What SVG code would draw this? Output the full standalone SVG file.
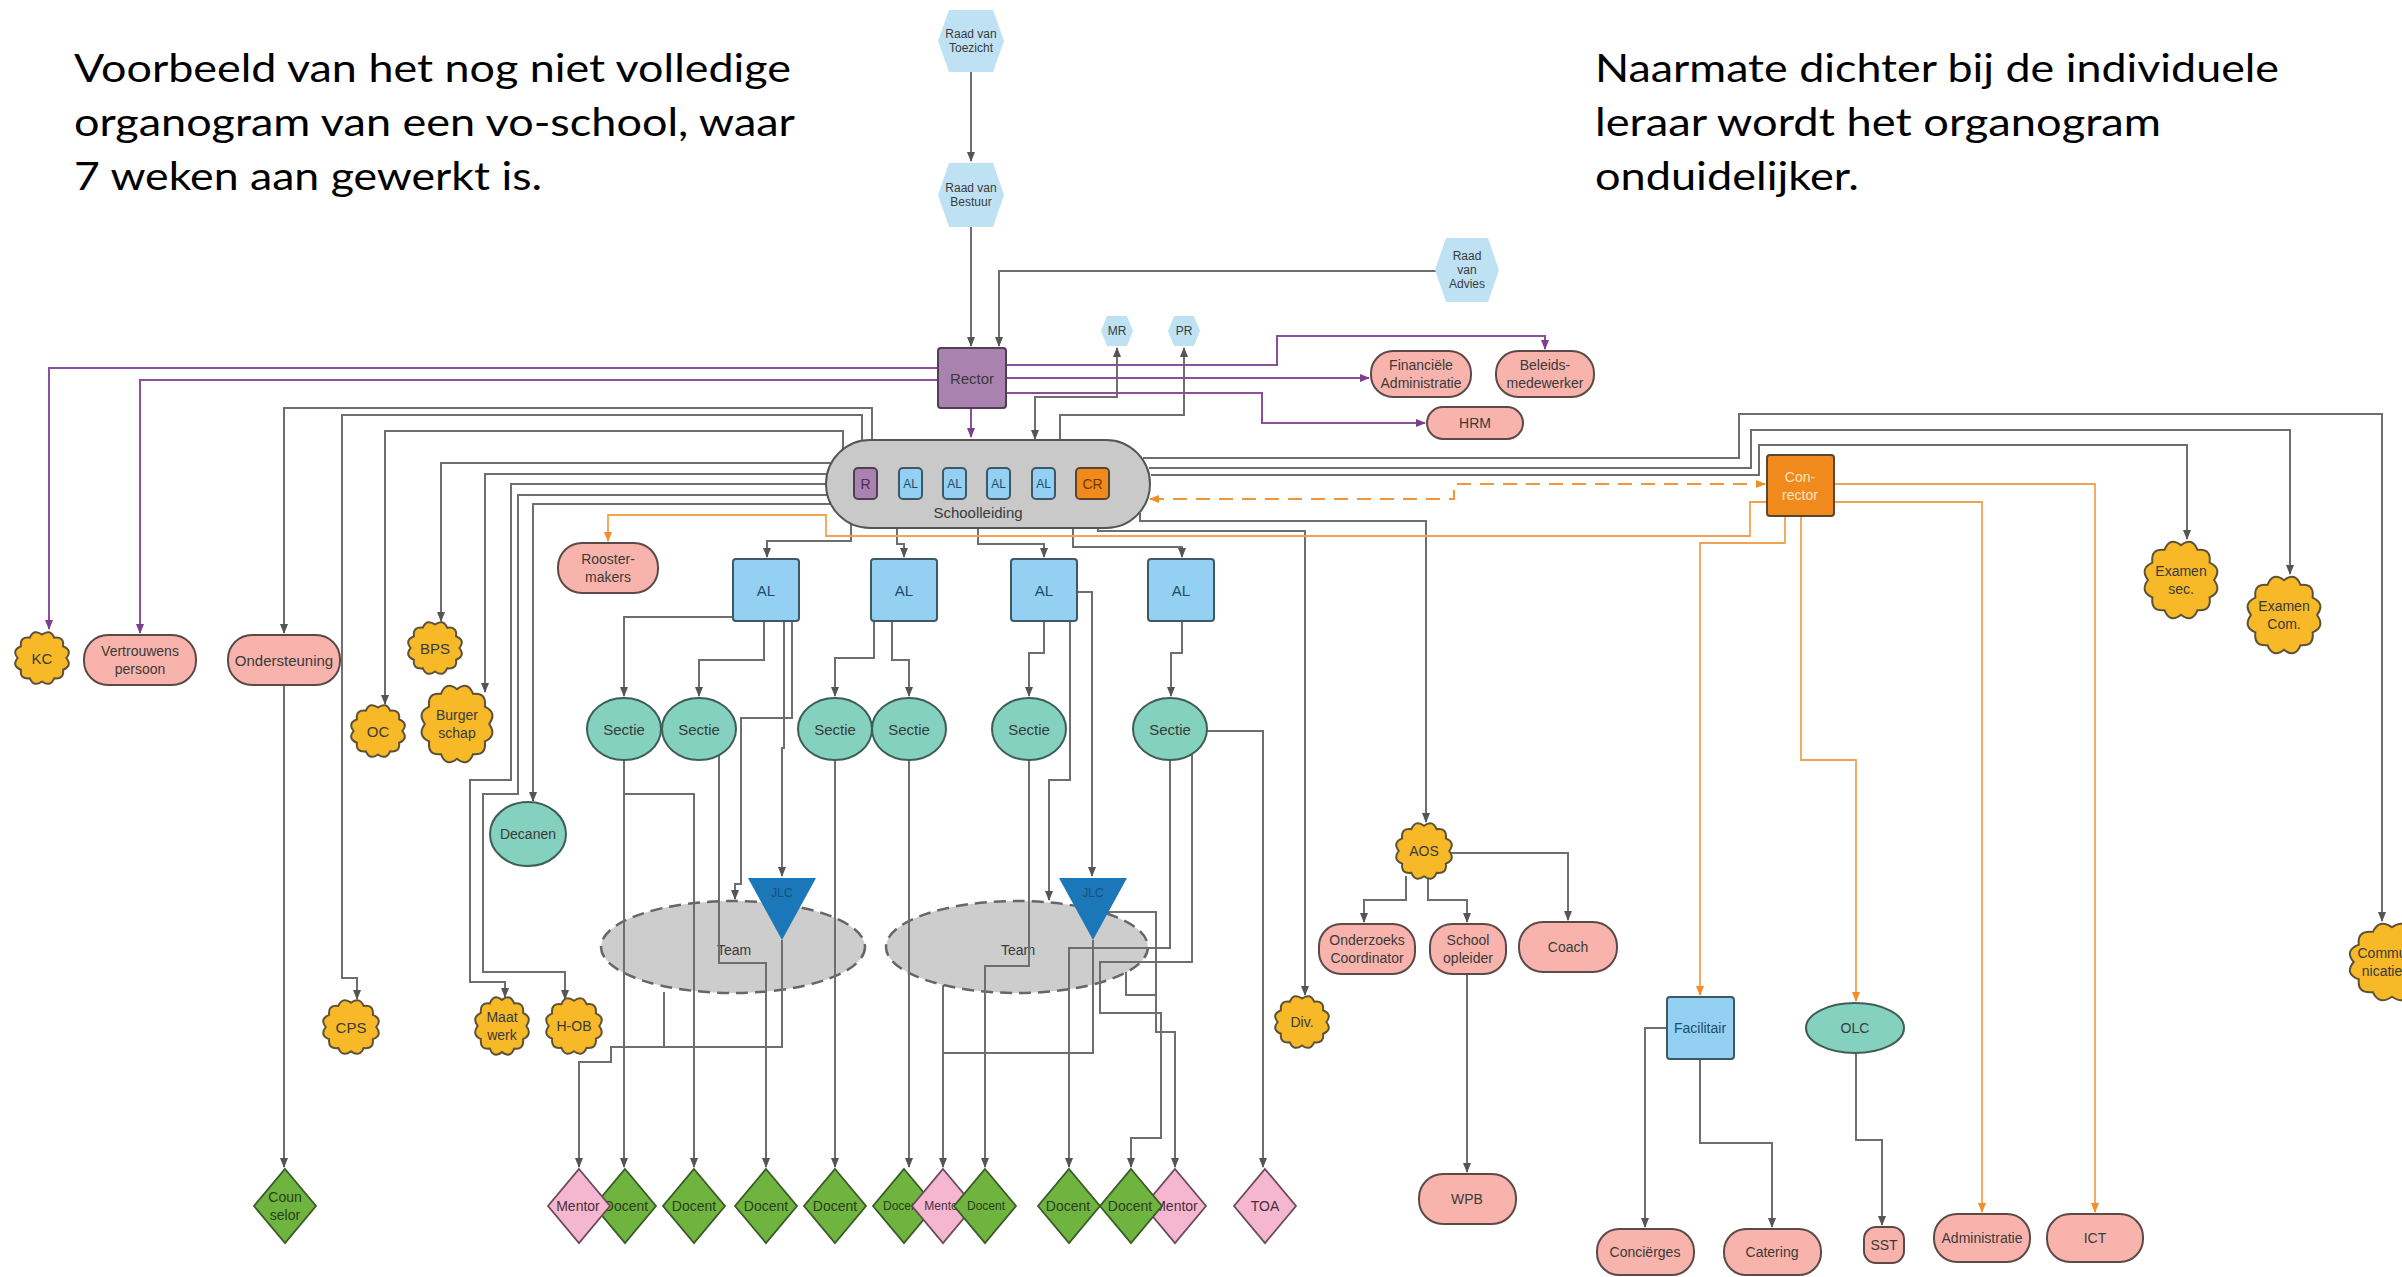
<svg xmlns="http://www.w3.org/2000/svg" width="2402" height="1277" viewBox="0 0 2402 1277">
<defs>
<style>
.lbl{font-family:"Liberation Sans",Arial,sans-serif;font-size:15px;fill:#3a3a3a;text-anchor:middle;dominant-baseline:central}
.sm{font-size:12px}
.md{font-size:14px}
.xs{font-size:12px}
.note{font-family:Lato,"Open Sans",sans-serif;font-size:39px;fill:#000}
.pink{fill:#f8b4ac;stroke:#5b4a48;stroke-width:2}
.cloud{fill:#f7b928;stroke:#5d5238;stroke-width:2}
.hex{fill:#bee2f4}
.blue{fill:#94d0f2;stroke:#3e5868;stroke-width:2}
.teal{fill:#84d1bf;stroke:#3f5e56;stroke-width:2}
.purple{fill:#a982b0;stroke:#4e3f52;stroke-width:2}
.orange{fill:#f08a1c;stroke:#5a4530;stroke-width:2}
.green{fill:#6fb43f;stroke:#3a5a28;stroke-width:1.8}
.rose{fill:#f5b6d0;stroke:#6b4b5b;stroke-width:1.8}
.team{fill:#cdcdcd;stroke:#666;stroke-width:2.5;stroke-dasharray:12 7}
.jlc{fill:#1b77b8}
.sl{fill:#c9c9c9;stroke:#555;stroke-width:2}
.g{fill:none;stroke:#6e6e6e;stroke-width:2;marker-end:url(#ag)}
.gn{fill:none;stroke:#6e6e6e;stroke-width:2}
.gb{marker-start:url(#ag)}
.p{fill:none;stroke:#8b4f9b;stroke-width:2;marker-end:url(#ap)}
.o{fill:none;stroke:#f0a352;stroke-width:1.8;marker-end:url(#ao)}
.od{fill:none;stroke:#f0953a;stroke-width:2;stroke-dasharray:14 9;marker-start:url(#ao);marker-end:url(#ao)}
.dg{fill:#2b3d1c}
.dr{fill:#4a2d3a}
</style>
<marker id="ag" viewBox="0 0 10 10" refX="9" refY="5" markerWidth="10" markerHeight="10" markerUnits="userSpaceOnUse" orient="auto-start-reverse"><path d="M0,1 L10,5 L0,9 z" fill="#555"/></marker>
<marker id="ap" viewBox="0 0 10 10" refX="9" refY="5" markerWidth="10" markerHeight="10" markerUnits="userSpaceOnUse" orient="auto-start-reverse"><path d="M0,1 L10,5 L0,9 z" fill="#7b3f8c"/></marker>
<marker id="ao" viewBox="0 0 10 10" refX="9" refY="5" markerWidth="10" markerHeight="10" markerUnits="userSpaceOnUse" orient="auto-start-reverse"><path d="M0,1 L10,5 L0,9 z" fill="#f08e2c"/></marker>
<path id="cloudshape" vector-effect="non-scaling-stroke" d="M0.87,0 Q1.092,0.293 0.753,0.435 Q0.799,0.799 0.435,0.753 Q0.293,1.092 0,0.87 Q-0.293,1.092 -0.435,0.753 Q-0.799,0.799 -0.753,0.435 Q-1.092,0.293 -0.87,0 Q-1.092,-0.293 -0.753,-0.435 Q-0.799,-0.799 -0.435,-0.753 Q-0.293,-1.092 0,-0.87 Q0.293,-1.092 0.435,-0.753 Q0.799,-0.799 0.753,-0.435 Q1.092,-0.293 0.87,0 Z"/>
</defs>
<rect width="2402" height="1277" fill="#fff"/>

<!-- explanatory notes -->
<g id="note-left">
<text class="note" x="74" y="82" textLength="717" lengthAdjust="spacingAndGlyphs">Voorbeeld van het nog niet volledige</text>
<text class="note" x="74" y="136" textLength="721" lengthAdjust="spacingAndGlyphs">organogram van een vo-school, waar</text>
<text class="note" x="74" y="190" textLength="468" lengthAdjust="spacingAndGlyphs">7 weken aan gewerkt is.</text>
</g>
<g id="note-right">
<text class="note" x="1595" y="82" textLength="684" lengthAdjust="spacingAndGlyphs">Naarmate dichter bij de individuele</text>
<text class="note" x="1595" y="136" textLength="566" lengthAdjust="spacingAndGlyphs">leraar wordt het organogram</text>
<text class="note" x="1595" y="190" textLength="264" lengthAdjust="spacingAndGlyphs">onduidelijker.</text>
</g>

<!-- team ellipses sit beneath the connectors -->
<g id="team-1"><ellipse class="team" cx="733" cy="947" rx="132" ry="46"/><text class="lbl md" x="734" y="950">Team</text></g>
<g id="team-2"><ellipse class="team" cx="1017" cy="947" rx="131" ry="46"/><text class="lbl md" x="1018" y="950">Team</text></g>

<g id="connectors">
<!-- board and rector -->
<path class="g" d="M971,72 V161"/>
<path class="g" d="M971,227 V346"/>
<path class="g" d="M1436,271 H999 V346"/>
<path class="g gb" d="M1035,439 V397 H1117 V348"/>
<path class="g" d="M1060,441 V415 H1184 V348"/>
<!-- schoolleiding to the left-hand staff -->
<path class="g" d="M872,441 V408 H284 V633"/>
<path class="g" d="M862,442 V415 H342 V978 H357 V999"/>
<path class="g" d="M843,451 V431 H385 V704"/>
<path class="g" d="M833,463 H441 V621"/>
<path class="g" d="M828,474 H485 V692"/>
<path class="g" d="M827,484 H511 V780 H470 V982 H505 V997"/>
<path class="g" d="M828,495 H518 V794 H483 V972 H565 V999"/>
<path class="g" d="M831,504 H533 V801"/>
<!-- schoolleiding to the AL's -->
<path class="g" d="M851,523 V541 H767 V557"/>
<path class="g" d="M897,528 V544 H904 V557"/>
<path class="g" d="M978,528 V544 H1044 V557"/>
<path class="g" d="M1073,528 V547 H1182 V557"/>
<!-- AL to secties, JLC and teams -->
<path class="g" d="M733,617 H624 V696"/>
<path class="g" d="M764,621 V660 H699 V696"/>
<path class="g" d="M874,621 V658 H835 V696"/>
<path class="g" d="M892,621 V660 H909 V696"/>
<path class="g" d="M1044,621 V653 H1029 V696"/>
<path class="g" d="M1182,621 V653 H1171 V696"/>
<path class="g" d="M784,621 V748 H782 V876"/>
<path class="g" d="M792,621 V718 H741 V884 H735 V899"/>
<path class="g" d="M1077,592 H1092 V876"/>
<path class="g" d="M1070,621 V780 H1049 V900"/>
<!-- secties to docenten -->
<path class="g" d="M624,760 V1167"/>
<path class="g" d="M624,794 H694 V1167"/>
<path class="g" d="M719,755 V963 H766 V1167"/>
<path class="g" d="M835,760 V1167"/>
<path class="g" d="M909,760 V1167"/>
<path class="g" d="M1029,760 V966 H985 V1167"/>
<path class="g" d="M1170,760 V948 H1069 V1167"/>
<path class="g" d="M1192,754 V962 H1100 V1013 H1161 V1138 H1131 V1167"/>
<path class="g" d="M1207,731 H1263 V1167"/>
<!-- JLC and teams to mentors -->
<path class="g" d="M782,940 V1047 H611 V1062 H579 V1167"/>
<path class="gn" d="M664,992 V1047"/>
<path class="g" d="M1093,940 V1053 H943 V1167"/>
<path class="gn" d="M943,985 V1053"/>
<path class="g" d="M1108,912 H1156 V1032 H1175 V1167"/>
<path class="gn" d="M1126,972 V995 H1156"/>
<!-- div, AOS and its branches -->
<path class="g" d="M1098,528 V531 H1305 V995"/>
<path class="g" d="M1140,513 V521 H1426 V822"/>
<path class="g" d="M1406,876 V900 H1364 V922"/>
<path class="g" d="M1428,878 V900 H1467 V922"/>
<path class="g" d="M1451,853 H1568 V920"/>
<path class="g" d="M1467,974 V1172"/>
<!-- right-hand staff -->
<path class="g" d="M1143,458 H1739 V414 H2382 V921"/>
<path class="g" d="M1149,468 H1751 V430 H2290 V574"/>
<path class="g" d="M1151,475 H1759 V445 H2187 V539"/>
<path class="g" d="M1667,1028 H1645 V1227"/>
<path class="g" d="M1700,1059 V1143 H1772 V1227"/>
<path class="g" d="M1856,1053 V1140 H1882 V1225"/>
<path class="g" d="M284,685 V1167"/>
<!-- rector lines -->
<path class="p" d="M938,368 H49 V629"/>
<path class="p" d="M938,380 H140 V633"/>
<path class="p" d="M1006,365 H1277 V336 H1545 V349"/>
<path class="p" d="M1006,378 H1369"/>
<path class="p" d="M1006,393 H1262 V423 H1425"/>
<path class="p" d="M971,408 V437"/>
<!-- con-rector lines -->
<path class="o" d="M1767,502 H1750 V536 H826 V515 H608 V541"/>
<path class="o" d="M1785,516 V543 H1700 V995"/>
<path class="o" d="M1801,516 V760 H1856 V1001"/>
<path class="o" d="M1834,502 H1982 V1212"/>
<path class="o" d="M1834,484 H2095 V1212"/>
<path class="od" d="M1150,499 H1454 V484 H1765"/>
</g>

<!-- board level -->
<g id="raad-van-toezicht"><polygon class="hex" points="938,41 949,10 993,10 1004,41 993,72 949,72"/><text class="lbl sm" x="971" y="41"><tspan x="971" dy="-7">Raad van</tspan><tspan x="971" dy="14">Toezicht</tspan></text></g>
<g id="raad-van-bestuur"><polygon class="hex" points="938,195 949,163 993,163 1004,195 993,227 949,227"/><text class="lbl sm" x="971" y="195"><tspan x="971" dy="-7">Raad van</tspan><tspan x="971" dy="14">Bestuur</tspan></text></g>
<g id="raad-van-advies"><polygon class="hex" points="1435,270 1446,238 1488,238 1499,270 1488,302 1446,302"/><text class="lbl sm" x="1467" y="270"><tspan x="1467" dy="-14">Raad</tspan><tspan x="1467" dy="14">van</tspan><tspan x="1467" dy="14">Advies</tspan></text></g>
<g id="mr"><polygon class="hex" points="1101,331 1107,316 1127,316 1133,331 1127,346 1107,346"/><text class="lbl sm" x="1117" y="331">MR</text></g>
<g id="pr"><polygon class="hex" points="1168,331 1174,316 1194,316 1200,331 1194,346 1174,346"/><text class="lbl sm" x="1184" y="331">PR</text></g>
<g id="rector"><rect class="purple" x="938" y="348" width="68" height="60" rx="3"/><text class="lbl" x="972" y="378">Rector</text></g>
<g id="financiele-administratie"><rect class="pink" x="1371" y="351" width="100" height="46" rx="22"/><text class="lbl md" x="1421" y="374"><tspan x="1421" dy="-9">Financiële</tspan><tspan x="1421" dy="18">Administratie</tspan></text></g>
<g id="beleidsmedewerker"><rect class="pink" x="1496" y="351" width="98" height="46" rx="22"/><text class="lbl md" x="1545" y="374"><tspan x="1545" dy="-9">Beleids-</tspan><tspan x="1545" dy="18">medewerker</tspan></text></g>
<g id="hrm"><rect class="pink" x="1427" y="407" width="96" height="32" rx="16"/><text class="lbl md" x="1475" y="423">HRM</text></g>

<!-- schoolleiding -->
<g id="schoolleiding">
<rect class="sl" x="826" y="440" width="324" height="88" rx="44"/>
<rect class="purple" x="854" y="468" width="23" height="31" rx="4"/><text class="lbl md" x="865.5" y="484" style="fill:#4a2f55">R</text>
<rect class="blue" x="899" y="468" width="23" height="31" rx="4"/><text class="lbl sm" x="910.5" y="484" style="fill:#1d4d6a">AL</text>
<rect class="blue" x="943" y="468" width="23" height="31" rx="4"/><text class="lbl sm" x="954.5" y="484" style="fill:#1d4d6a">AL</text>
<rect class="blue" x="987" y="468" width="23" height="31" rx="4"/><text class="lbl sm" x="998.5" y="484" style="fill:#1d4d6a">AL</text>
<rect class="blue" x="1032" y="468" width="23" height="31" rx="4"/><text class="lbl sm" x="1043.5" y="484" style="fill:#1d4d6a">AL</text>
<rect class="orange" x="1076" y="468" width="33" height="31" rx="4"/><text class="lbl md" x="1092.5" y="484" style="fill:#6b3a00">CR</text>
<text class="lbl" x="978" y="512">Schoolleiding</text>
</g>

<!-- left-hand staff -->
<g id="kc"><use href="#cloudshape" class="cloud" transform="translate(42 658) scale(28 27)"/><text class="lbl" x="42" y="658">KC</text></g>
<g id="vertrouwenspersoon"><rect class="pink" x="84" y="635" width="112" height="50" rx="24"/><text class="lbl md" x="140" y="660"><tspan x="140" dy="-9">Vertrouwens</tspan><tspan x="140" dy="18">persoon</tspan></text></g>
<g id="ondersteuning"><rect class="pink" x="228" y="635" width="112" height="50" rx="24"/><text class="lbl" x="284" y="660">Ondersteuning</text></g>
<g id="bps"><use href="#cloudshape" class="cloud" transform="translate(435 648) scale(28 27)"/><text class="lbl" x="435" y="648">BPS</text></g>
<g id="oc"><use href="#cloudshape" class="cloud" transform="translate(378 731) scale(28 27)"/><text class="lbl" x="378" y="731">OC</text></g>
<g id="burgerschap"><use href="#cloudshape" class="cloud" transform="translate(457 724) scale(37 40)"/><text class="lbl md" x="457" y="724"><tspan x="457" dy="-9">Burger</tspan><tspan x="457" dy="18">schap</tspan></text></g>
<g id="roostermakers"><rect class="pink" x="558" y="543" width="100" height="50" rx="24"/><text class="lbl md" x="608" y="568"><tspan x="608" dy="-9">Rooster-</tspan><tspan x="608" dy="18">makers</tspan></text></g>
<g id="decanen"><ellipse class="teal" cx="528" cy="834" rx="38" ry="32"/><text class="lbl md" x="528" y="834">Decanen</text></g>
<g id="cps"><use href="#cloudshape" class="cloud" transform="translate(351 1027) scale(29 28)"/><text class="lbl" x="351" y="1027">CPS</text></g>
<g id="maatwerk"><use href="#cloudshape" class="cloud" transform="translate(502 1026) scale(28 30)"/><text class="lbl md" x="502" y="1026"><tspan x="502" dy="-9">Maat</tspan><tspan x="502" dy="18">werk</tspan></text></g>
<g id="h-ob"><use href="#cloudshape" class="cloud" transform="translate(574 1026) scale(29 29)"/><text class="lbl md" x="574" y="1026">H-OB</text></g>
<g id="counselor"><polygon class="green" points="285,1169 316,1206 285,1243 254,1206"/><text class="lbl md dg" x="285" y="1206"><tspan x="285" dy="-9">Coun</tspan><tspan x="285" dy="18">selor</tspan></text></g>

<!-- afdelingsleiders -->
<g id="al-1"><rect class="blue" x="733" y="559" width="66" height="62" rx="3"/><text class="lbl" x="766" y="590" style="fill:#1d4d6a">AL</text></g>
<g id="al-2"><rect class="blue" x="871" y="559" width="66" height="62" rx="3"/><text class="lbl" x="904" y="590" style="fill:#1d4d6a">AL</text></g>
<g id="al-3"><rect class="blue" x="1011" y="559" width="66" height="62" rx="3"/><text class="lbl" x="1044" y="590" style="fill:#1d4d6a">AL</text></g>
<g id="al-4"><rect class="blue" x="1148" y="559" width="66" height="62" rx="3"/><text class="lbl" x="1181" y="590" style="fill:#1d4d6a">AL</text></g>

<!-- secties -->
<g id="sectie-1"><ellipse class="teal" cx="624" cy="729" rx="37" ry="31"/><text class="lbl" x="624" y="729">Sectie</text></g>
<g id="sectie-2"><ellipse class="teal" cx="699" cy="729" rx="37" ry="31"/><text class="lbl" x="699" y="729">Sectie</text></g>
<g id="sectie-3"><ellipse class="teal" cx="835" cy="729" rx="37" ry="31"/><text class="lbl" x="835" y="729">Sectie</text></g>
<g id="sectie-4"><ellipse class="teal" cx="909" cy="729" rx="37" ry="31"/><text class="lbl" x="909" y="729">Sectie</text></g>
<g id="sectie-5"><ellipse class="teal" cx="1029" cy="729" rx="37" ry="31"/><text class="lbl" x="1029" y="729">Sectie</text></g>
<g id="sectie-6"><ellipse class="teal" cx="1170" cy="729" rx="37" ry="31"/><text class="lbl" x="1170" y="729">Sectie</text></g>

<!-- jaarlaagcoordinatoren -->
<g id="jlc-1"><polygon class="jlc" points="748,878 816,878 782,940"/><text class="lbl sm" x="782" y="893" style="fill:#17527e">JLC</text></g>
<g id="jlc-2"><polygon class="jlc" points="1059,878 1127,878 1093,940"/><text class="lbl sm" x="1093" y="893" style="fill:#17527e">JLC</text></g>

<!-- docenten and mentoren -->
<g id="docent-1"><polygon class="green" points="625,1169 656,1206 625,1243 594,1206"/><text class="lbl md dg" x="626" y="1206">Docent</text></g>
<g id="mentor-1"><polygon class="rose" points="579,1169 610,1206 579,1243 548,1206"/><text class="lbl md dr" x="578" y="1206">Mentor</text></g>
<g id="docent-2"><polygon class="green" points="694,1169 725,1206 694,1243 663,1206"/><text class="lbl md dg" x="694" y="1206">Docent</text></g>
<g id="docent-3"><polygon class="green" points="766,1169 797,1206 766,1243 735,1206"/><text class="lbl md dg" x="766" y="1206">Docent</text></g>
<g id="docent-4"><polygon class="green" points="835,1169 866,1206 835,1243 804,1206"/><text class="lbl md dg" x="835" y="1206">Docent</text></g>
<g id="docent-5"><polygon class="green" points="904,1169 935,1206 904,1243 873,1206"/><text class="lbl xs dg" x="902" y="1206">Docent</text></g>
<g id="mentor-2"><polygon class="rose" points="943,1169 974,1206 943,1243 912,1206"/><text class="lbl xs dr" x="943" y="1206">Mentor</text></g>
<g id="docent-6"><polygon class="green" points="985,1169 1016,1206 985,1243 954,1206"/><text class="lbl xs dg" x="986" y="1206">Docent</text></g>
<g id="docent-7"><polygon class="green" points="1069,1169 1100,1206 1069,1243 1038,1206"/><text class="lbl md dg" x="1068" y="1206">Docent</text></g>
<g id="mentor-3"><polygon class="rose" points="1175,1169 1206,1206 1175,1243 1144,1206"/><text class="lbl md dr" x="1176" y="1206">Mentor</text></g>
<g id="docent-8"><polygon class="green" points="1131,1169 1162,1206 1131,1243 1100,1206"/><text class="lbl md dg" x="1130" y="1206">Docent</text></g>
<g id="toa"><polygon class="rose" points="1265,1169 1296,1206 1265,1243 1234,1206"/><text class="lbl md dr" x="1265" y="1206">TOA</text></g>

<!-- AOS branch -->
<g id="div"><use href="#cloudshape" class="cloud" transform="translate(1302 1022) scale(28 27)"/><text class="lbl md" x="1302" y="1022">Div.</text></g>
<g id="aos"><use href="#cloudshape" class="cloud" transform="translate(1424 851) scale(29 29)"/><text class="lbl md" x="1424" y="851">AOS</text></g>
<g id="onderzoekscoordinator"><rect class="pink" x="1319" y="924" width="96" height="50" rx="22"/><text class="lbl md" x="1367" y="949"><tspan x="1367" dy="-9">Onderzoeks</tspan><tspan x="1367" dy="18">Coordinator</tspan></text></g>
<g id="schoolopleider"><rect class="pink" x="1430" y="924" width="76" height="50" rx="22"/><text class="lbl md" x="1468" y="949"><tspan x="1468" dy="-9">School</tspan><tspan x="1468" dy="18">opleider</tspan></text></g>
<g id="coach"><rect class="pink" x="1519" y="922" width="98" height="50" rx="24"/><text class="lbl md" x="1568" y="947">Coach</text></g>
<g id="wpb"><rect class="pink" x="1419" y="1174" width="97" height="50" rx="24"/><text class="lbl md" x="1467" y="1199">WPB</text></g>

<!-- con-rector branch -->
<g id="con-rector"><rect class="orange" x="1767" y="455" width="67" height="61" rx="3"/><text class="lbl md" x="1800" y="486" style="fill:#fbe3c4"><tspan x="1800" dy="-9">Con-</tspan><tspan x="1800" dy="18">rector</tspan></text></g>
<g id="facilitair"><rect class="blue" x="1667" y="997" width="67" height="62" rx="3"/><text class="lbl md" x="1700" y="1028" style="fill:#1d4d6a">Facilitair</text></g>
<g id="olc"><ellipse class="teal" cx="1855" cy="1028" rx="49" ry="25"/><text class="lbl md" x="1855" y="1028">OLC</text></g>
<g id="concierges"><rect class="pink" x="1597" y="1229" width="97" height="46" rx="22"/><text class="lbl md" x="1645" y="1252">Conciërges</text></g>
<g id="catering"><rect class="pink" x="1724" y="1229" width="97" height="46" rx="22"/><text class="lbl md" x="1772" y="1252">Catering</text></g>
<g id="sst"><rect class="pink" x="1864" y="1227" width="40" height="36" rx="12"/><text class="lbl md" x="1884" y="1245">SST</text></g>
<g id="administratie"><rect class="pink" x="1934" y="1214" width="96" height="48" rx="23"/><text class="lbl md" x="1982" y="1238">Administratie</text></g>
<g id="ict"><rect class="pink" x="2047" y="1214" width="96" height="48" rx="23"/><text class="lbl md" x="2095" y="1238">ICT</text></g>

<!-- exam and communication -->
<g id="examensecretariaat"><use href="#cloudshape" class="cloud" transform="translate(2181 580) scale(38 40)"/><text class="lbl md" x="2181" y="580"><tspan x="2181" dy="-9">Examen</tspan><tspan x="2181" dy="18">sec.</tspan></text></g>
<g id="examencommissie"><use href="#cloudshape" class="cloud" transform="translate(2284 615) scale(38 40)"/><text class="lbl md" x="2284" y="615"><tspan x="2284" dy="-9">Examen</tspan><tspan x="2284" dy="18">Com.</tspan></text></g>
<g id="communicatie"><use href="#cloudshape" class="cloud" transform="translate(2392 962) scale(44 40)"/><text class="lbl md" x="2382" y="962"><tspan x="2382" dy="-9">Commu</tspan><tspan x="2382" dy="18">nicatie</tspan></text></g>
</svg>
